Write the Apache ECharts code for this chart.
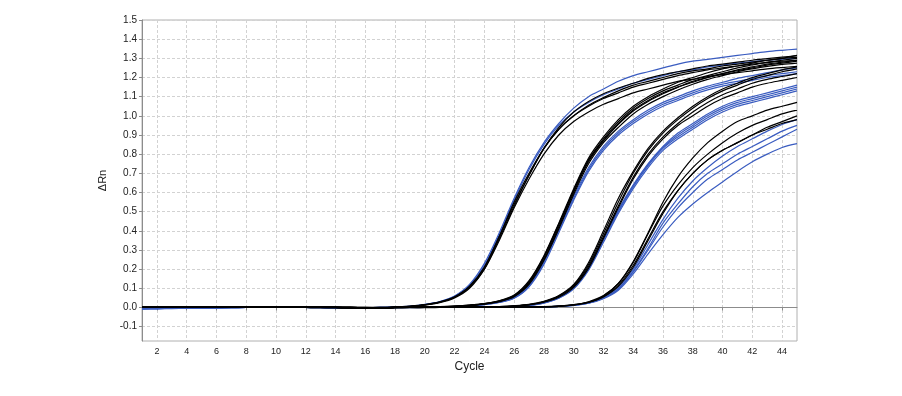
<!DOCTYPE html>
<html>
<head>
<meta charset="utf-8">
<script src="https://cdn.jsdelivr.net/npm/echarts@6/dist/echarts.min.js"></script>
<style>html,body{margin:0;padding:0;background:#fff}#c{width:902px;height:396px}</style>
</head>
<body>
<div id="c"></div>
<script>
const cycles = [1,2,3,4,5,6,7,8,9,10,11,12,13,14,15,16,17,18,19,20,21,22,23,24,25,26,27,28,29,30,31,32,33,34,35,36,37,38,39,40,41,42,43,44,45];
const yTickValues = [-0.1,0,0.1,0.2,0.3,0.4,0.5,0.6,0.7,0.8,0.9,1.0,1.1,1.2,1.3,1.4,1.5];

// Group 1 (earliest)
const g1Black1 = [0.004,0.004,0.003,0.002,0.002,0.001,0.001,0.002,0.002,0.003,0.003,0.002,0.001,0.000,0.000,-0.001,-0.001, 0.001,0.006,0.014,0.028,0.055,0.11,0.21,0.37,0.54,0.69,0.83,0.93,1.00,1.055,1.095,1.13,1.16,1.18,1.20,1.22,1.235,1.245,1.26,1.27,1.28,1.29,1.30,1.305];
const g1Black2 = [0.002,0.002,0.001,0.001,0.000,0.000,0.000,0.001,0.001,0.002,0.004,0.003,0.002,0.001,0.000,-0.002,-0.003, 0.000,0.005,0.013,0.027,0.053,0.105,0.20,0.36,0.53,0.69,0.83,0.94,1.02,1.075,1.115,1.145,1.17,1.195,1.215,1.23,1.245,1.26,1.27,1.28,1.29,1.298,1.306,1.314];
const g1Black3 = [0.005,0.004,0.004,0.003,0.002,0.001,0.000,0.000,0.000,0.001,0.001,0.000,-0.001,-0.001,-0.002,-0.003,-0.004, -0.001,0.004,0.012,0.025,0.05,0.10,0.20,0.35,0.52,0.67,0.80,0.90,0.97,1.02,1.06,1.09,1.12,1.14,1.16,1.18,1.19,1.205,1.215,1.225,1.235,1.245,1.252,1.258];
const g1Black4 = [0.003,0.003,0.002,0.002,0.001,0.001,0.001,0.002,0.003,0.003,0.002,0.001,0.000,0.000,-0.001,-0.001,0.000, 0.002,0.007,0.015,0.029,0.056,0.11,0.21,0.37,0.55,0.70,0.83,0.93,1.00,1.05,1.09,1.12,1.15,1.17,1.19,1.21,1.225,1.24,1.25,1.26,1.27,1.278,1.285,1.29];
const g1Blue1 = [-0.006,-0.006,-0.005,-0.004,-0.003,-0.002,-0.001,0.000,0.001,0.001,0.002,0.001,0.000,-0.001,-0.002,-0.002,-0.002, 0.002,0.007,0.016,0.031,0.06,0.12,0.23,0.39,0.57,0.73,0.86,0.96,1.04,1.10,1.14,1.18,1.21,1.23,1.25,1.27,1.285,1.295,1.305,1.315,1.325,1.335,1.342,1.348];
const g1Blue2 = [-0.004,-0.003,-0.003,-0.002,-0.001,0.000,0.000,0.001,0.002,0.002,0.001,0.000,-0.001,-0.002,-0.002,-0.001,0.000, 0.001,0.006,0.015,0.030,0.058,0.115,0.22,0.38,0.56,0.72,0.85,0.95,1.02,1.07,1.11,1.14,1.17,1.19,1.21,1.23,1.24,1.255,1.265,1.275,1.283,1.29,1.296,1.30];

// Group 2
const g2Black1 = [0.004,0.003,0.003,0.002,0.002,0.001,0.001,0.002,0.002,0.003,0.002,0.002,0.001,0.000,0.000,-0.001,-0.001, 0.000,0.001,0.002,0.003,0.006,0.011,0.019,0.033,0.06,0.13,0.26,0.43,0.61,0.77,0.88,0.97,1.04,1.09,1.13,1.16,1.19,1.21,1.23,1.25,1.265,1.28,1.29,1.30];
const g2Black2 = [0.003,0.002,0.002,0.001,0.000,0.000,0.001,0.001,0.002,0.003,0.004,0.003,0.002,0.001,0.000,-0.001,-0.002, -0.001,0.000,0.002,0.004,0.007,0.012,0.02,0.035,0.065,0.14,0.27,0.44,0.62,0.78,0.89,0.98,1.05,1.10,1.14,1.175,1.20,1.225,1.245,1.26,1.275,1.29,1.30,1.315];
const g2Black3 = [0.005,0.005,0.004,0.003,0.002,0.001,0.000,0.000,0.001,0.001,0.001,0.000,-0.001,-0.001,-0.002,-0.002,-0.003, 0.001,0.002,0.003,0.004,0.006,0.010,0.018,0.031,0.058,0.125,0.25,0.42,0.60,0.76,0.87,0.96,1.03,1.08,1.12,1.15,1.18,1.20,1.22,1.24,1.255,1.27,1.28,1.29];
const g2Black4 = [0.002,0.002,0.002,0.001,0.001,0.001,0.000,0.001,0.002,0.002,0.003,0.002,0.001,0.000,-0.001,-0.001,-0.002, 0.000,0.001,0.002,0.003,0.005,0.010,0.017,0.030,0.056,0.12,0.245,0.41,0.59,0.75,0.86,0.94,1.01,1.06,1.10,1.135,1.165,1.19,1.21,1.23,1.245,1.258,1.268,1.275];
const g2Black5 = [0.004,0.004,0.003,0.003,0.002,0.002,0.001,0.001,0.001,0.002,0.002,0.001,0.000,0.000,-0.001,-0.002,-0.002, 0.000,0.001,0.003,0.004,0.007,0.012,0.02,0.034,0.062,0.135,0.265,0.435,0.61,0.77,0.87,0.955,1.025,1.075,1.115,1.15,1.175,1.20,1.22,1.235,1.25,1.265,1.275,1.285];
const g2Blue1 = [-0.005,-0.005,-0.004,-0.003,-0.002,-0.001,0.000,0.000,0.001,0.002,0.002,0.001,0.000,-0.001,-0.001,-0.002,-0.002, 0.000,0.001,0.002,0.003,0.005,0.009,0.016,0.028,0.052,0.115,0.24,0.41,0.58,0.73,0.84,0.92,0.98,1.03,1.07,1.10,1.13,1.155,1.175,1.195,1.21,1.225,1.24,1.25];
const g2Blue2 = [-0.003,-0.003,-0.002,-0.002,-0.001,0.000,0.000,0.001,0.001,0.002,0.002,0.001,0.000,-0.001,-0.001,-0.001,0.000, 0.001,0.001,0.002,0.003,0.005,0.009,0.015,0.027,0.05,0.11,0.235,0.40,0.57,0.72,0.83,0.91,0.97,1.02,1.06,1.09,1.12,1.145,1.165,1.18,1.195,1.21,1.22,1.23];
const g2Blue3 = [-0.007,-0.006,-0.005,-0.004,-0.003,-0.002,-0.001,0.000,0.000,0.001,0.001,0.000,0.000,-0.001,-0.002,-0.002,-0.001, 0.000,0.000,0.001,0.002,0.004,0.008,0.015,0.026,0.048,0.108,0.225,0.39,0.56,0.71,0.82,0.90,0.96,1.01,1.05,1.08,1.11,1.135,1.155,1.17,1.185,1.20,1.21,1.22];

// Group 3
const g3Black1 = [0.004,0.004,0.003,0.003,0.002,0.001,0.001,0.001,0.002,0.002,0.003,0.002,0.001,0.000,-0.001,-0.001,-0.001, 0.000,-0.001,0.000,0.001,0.001,0.002,0.002,0.004,0.008,0.015,0.03,0.06,0.115,0.225,0.385,0.55,0.70,0.82,0.91,0.98,1.04,1.09,1.13,1.16,1.19,1.21,1.23,1.245];
const g3Black2 = [0.003,0.003,0.002,0.002,0.001,0.000,0.000,0.001,0.001,0.002,0.003,0.003,0.002,0.001,0.000,-0.001,-0.002, 0.000,0.000,0.001,0.001,0.002,0.002,0.003,0.004,0.008,0.015,0.03,0.058,0.11,0.215,0.37,0.53,0.68,0.80,0.89,0.96,1.02,1.07,1.11,1.14,1.17,1.19,1.205,1.22];
const g3Black3 = [0.005,0.004,0.004,0.003,0.002,0.002,0.001,0.000,0.000,0.001,0.001,0.001,0.000,-0.001,-0.002,-0.002,-0.002, -0.001,0.000,0.000,0.001,0.001,0.002,0.002,0.003,0.006,0.013,0.027,0.053,0.105,0.205,0.36,0.52,0.67,0.79,0.88,0.95,1.00,1.05,1.09,1.12,1.15,1.17,1.185,1.20];
const g3Black4 = [0.002,0.002,0.002,0.001,0.001,0.001,0.001,0.002,0.002,0.003,0.003,0.002,0.001,0.001,0.000,0.000,0.000, 0.001,0.001,0.001,0.002,0.002,0.003,0.003,0.005,0.009,0.016,0.032,0.062,0.12,0.235,0.40,0.57,0.71,0.83,0.92,0.99,1.05,1.10,1.14,1.17,1.20,1.22,1.24,1.255];
const g3Blue1 = [-0.006,-0.005,-0.004,-0.003,-0.003,-0.002,-0.001,0.000,0.001,0.001,0.002,0.001,0.000,-0.001,-0.002,-0.002,-0.001, 0.000,0.000,0.000,0.001,0.001,0.002,0.002,0.003,0.006,0.012,0.026,0.052,0.105,0.21,0.36,0.51,0.64,0.75,0.84,0.91,0.96,1.01,1.05,1.08,1.10,1.12,1.14,1.16];
const g3Blue2 = [-0.004,-0.004,-0.003,-0.002,-0.001,-0.001,0.000,0.001,0.001,0.002,0.001,0.001,0.000,-0.001,-0.001,-0.002,-0.002, -0.001,-0.001,0.000,0.000,0.001,0.001,0.002,0.003,0.005,0.011,0.024,0.05,0.10,0.20,0.35,0.50,0.63,0.74,0.83,0.89,0.94,0.99,1.03,1.06,1.08,1.10,1.12,1.14];
const g3Blue3 = [-0.008,-0.007,-0.006,-0.004,-0.003,-0.002,-0.001,0.000,0.000,0.001,0.001,0.000,-0.001,-0.001,-0.002,-0.003,-0.002, 0.000,0.000,0.001,0.001,0.001,0.002,0.002,0.003,0.005,0.011,0.023,0.048,0.097,0.195,0.34,0.49,0.62,0.73,0.82,0.88,0.93,0.98,1.02,1.05,1.07,1.09,1.11,1.13];
const g3Blue4 = [-0.003,-0.003,-0.002,-0.001,-0.001,0.000,0.000,0.001,0.002,0.002,0.002,0.001,0.000,0.000,-0.001,-0.001,0.000, 0.000,0.001,0.001,0.001,0.002,0.002,0.003,0.004,0.006,0.012,0.025,0.051,0.103,0.205,0.355,0.505,0.635,0.745,0.835,0.90,0.95,1.00,1.04,1.07,1.09,1.11,1.13,1.15];

// Group 4 (latest)
const g4Black1 = [0.004,0.003,0.003,0.002,0.001,0.001,0.000,0.001,0.001,0.002,0.003,0.002,0.001,0.000,-0.001,-0.002,-0.002, 0.000,0.000,-0.001,0.000,0.001,0.001,0.001,0.002,0.002,0.002,0.003,0.007,0.014,0.028,0.06,0.125,0.24,0.39,0.55,0.68,0.78,0.86,0.92,0.97,1.00,1.03,1.05,1.07];
const g4Black2 = [0.003,0.003,0.002,0.002,0.002,0.001,0.001,0.001,0.002,0.002,0.002,0.001,0.000,0.000,-0.001,-0.001,-0.001, 0.000,0.000,0.000,0.001,0.001,0.001,0.001,0.002,0.002,0.002,0.003,0.006,0.013,0.026,0.055,0.11,0.21,0.35,0.49,0.61,0.70,0.77,0.82,0.86,0.90,0.94,0.97,1.00];
const g4Black3 = [0.005,0.004,0.003,0.003,0.002,0.001,0.000,0.000,0.001,0.001,0.002,0.002,0.001,0.000,-0.001,-0.002,-0.003, -0.001,0.000,0.000,0.000,0.001,0.001,0.001,0.001,0.002,0.002,0.003,0.006,0.013,0.027,0.057,0.115,0.22,0.36,0.50,0.61,0.70,0.77,0.82,0.86,0.90,0.93,0.96,0.98];
const g4Black4 = [0.002,0.002,0.001,0.001,0.001,0.000,0.000,0.001,0.001,0.002,0.003,0.003,0.002,0.001,0.000,0.000,-0.001, 0.000,0.001,0.001,0.001,0.001,0.002,0.002,0.002,0.002,0.003,0.004,0.008,0.015,0.03,0.062,0.125,0.235,0.385,0.53,0.64,0.73,0.80,0.86,0.91,0.95,0.98,1.01,1.03];
const g4Blue1 = [-0.005,-0.004,-0.004,-0.003,-0.002,-0.001,0.000,0.000,0.001,0.001,0.001,0.001,0.000,-0.001,-0.001,-0.002,-0.002, 0.000,0.000,0.000,0.000,0.001,0.001,0.001,0.001,0.002,0.002,0.003,0.006,0.012,0.025,0.053,0.105,0.20,0.33,0.46,0.57,0.66,0.73,0.79,0.84,0.88,0.92,0.955,0.98];
const g4Blue2 = [-0.007,-0.006,-0.005,-0.004,-0.002,-0.001,0.000,0.001,0.001,0.002,0.002,0.001,0.000,-0.001,-0.002,-0.002,-0.001, 0.000,0.000,0.000,0.001,0.001,0.001,0.001,0.002,0.002,0.002,0.003,0.006,0.012,0.024,0.05,0.098,0.19,0.31,0.44,0.54,0.63,0.70,0.75,0.80,0.84,0.88,0.92,0.95];
const g4Blue3 = [-0.004,-0.003,-0.003,-0.002,-0.001,0.000,0.000,0.000,0.001,0.001,0.002,0.001,0.000,0.000,-0.001,-0.002,-0.002, -0.001,0.000,0.000,0.000,0.000,0.001,0.001,0.001,0.002,0.002,0.003,0.006,0.011,0.023,0.048,0.095,0.185,0.30,0.42,0.52,0.60,0.67,0.72,0.77,0.81,0.85,0.89,0.93];
const g4Blue4 = [-0.006,-0.005,-0.004,-0.003,-0.002,-0.002,-0.001,0.000,0.001,0.001,0.001,0.000,-0.001,-0.001,-0.002,-0.002,-0.001, 0.000,0.000,0.000,0.000,0.001,0.001,0.001,0.001,0.002,0.002,0.003,0.006,0.011,0.022,0.046,0.09,0.175,0.28,0.38,0.47,0.54,0.60,0.655,0.71,0.76,0.80,0.835,0.855];

const blueCurves = [g1Blue1,g1Blue2,g2Blue1,g2Blue2,g2Blue3,g3Blue1,g3Blue2,g3Blue3,g3Blue4,g4Blue1,g4Blue2,g4Blue3,g4Blue4];
const blackCurves = [g1Black1,g1Black2,g1Black3,g1Black4,g2Black1,g2Black2,g2Black3,g2Black4,g2Black5,g3Black1,g3Black2,g3Black3,g3Black4,g4Black1,g4Black2,g4Black3,g4Black4];

const BLUE = '#3a5cc0';
const BLACK = '#000000';
const FONT = 'Liberation Sans, Arial, sans-serif';

function mk(data, color) {
  return {
    type: 'line', data: data, showSymbol: false, smooth: 0.3,
    lineStyle: { color: color, width: 1.2 }, itemStyle: { color: color },
    emphasis: { disabled: true }, silent: true
  };
}
const series = [];
blueCurves.forEach(d => series.push(mk(d, BLUE)));
blackCurves.forEach(d => series.push(mk(d, BLACK)));

const evenOnly = (i, v) => Number(v) % 2 === 0;

const chart = echarts.init(document.getElementById('c'), null, { renderer: 'canvas' });
chart.setOption({
  animation: false,
  backgroundColor: '#ffffff',
  grid: { left: 142, right: 105, top: 20, bottom: 55, show: true, borderColor: '#b0b0b0', borderWidth: 1, backgroundColor: 'transparent' },
  xAxis: {
    type: 'category', data: cycles, boundaryGap: false,
    name: 'Cycle', nameLocation: 'middle', nameGap: 19,
    nameTextStyle: { fontFamily: FONT, fontSize: 12, color: '#222' },
    axisLine: { show: true, lineStyle: { color: '#8c8c8c', width: 1 } },
    axisTick: { show: true, interval: evenOnly, length: 3, lineStyle: { color: '#8c8c8c' } },
    axisLabel: { interval: evenOnly, fontFamily: FONT, fontSize: 9, color: '#222', margin: 6 },
    splitLine: { show: true, interval: evenOnly, lineStyle: { color: '#d2d2d2', type: [3, 2], width: 1 } }
  },
  yAxis: {
    type: 'value', min: -0.175, max: 1.5,
    name: 'ΔRn', nameLocation: 'middle', nameGap: 25,
    nameTextStyle: { fontFamily: FONT, fontSize: 11, color: '#222' },
    axisLine: { show: true, lineStyle: { color: '#8c8c8c', width: 1 } },
    axisTick: { show: true, length: 3, customValues: yTickValues, lineStyle: { color: '#8c8c8c' } },
    axisLabel: { customValues: yTickValues, formatter: v => Number(v).toFixed(1), fontFamily: FONT, fontSize: 10, color: '#222', margin: 5 },
    splitLine: { show: true, lineStyle: { color: '#d2d2d2', type: [3, 2], width: 1 } }
  },
  series: series
});
</script>
</body>
</html>
